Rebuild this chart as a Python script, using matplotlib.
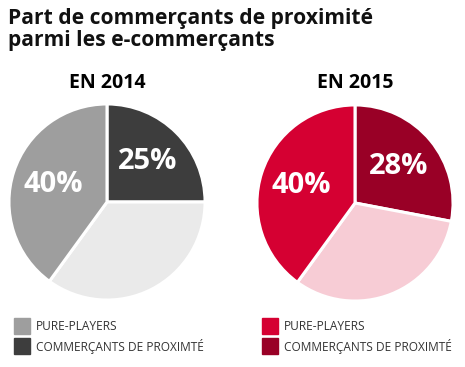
import matplotlib
matplotlib.use("Agg")
import matplotlib.pyplot as plt

# ---------------------------------------------------------------- data
TITLE = "Part de commerçants de proximité\nparmi les e-commerçants"
YEARS = ["EN 2014", "EN 2015"]
# ordre des parts : commerçants de proximité, autres, pure-players
SHARES_2014 = [25, 35, 40]
SHARES_2015 = [28, 32, 40]
SHOW_LABEL = [True, False, True]
LEGEND_LABELS = ["PURE-PLAYERS", "COMMERÇANTS DE PROXIMTÉ"]

GREYS = ["#3d3d3d", "#eaeaea", "#9e9e9e"]
REDS = ["#990026", "#f7ccd5", "#d50032"]

plt.rcParams["font.family"] = ["Open Sans", "DejaVu Sans"]

W, H = 465, 367
fig = plt.figure(figsize=(W / 100, H / 100), dpi=100)


def px(x, y):
    """pixels (origine en haut a gauche) -> fraction de figure"""
    return x / W, 1 - y / H


def draw_pie(cx, cy, r, values, colors, year):
    ax = fig.add_axes([(cx - r) / W, 1 - (cy + r) / H, 2 * r / W, 2 * r / H])
    wedges, texts, autotexts = ax.pie(
        values, colors=colors, startangle=90, counterclock=False,
        radius=1.0, autopct=lambda p: f"{p:.0f}%", pctdistance=0.58,
        wedgeprops=dict(edgecolor="white", linewidth=2.2),
        textprops=dict(color="white", fontsize=21, fontweight="bold"),
    )
    for t, show in zip(autotexts, SHOW_LABEL):
        t.set_visible(show)
    ax.set_xlim(-1.02, 1.02)
    ax.set_ylim(-1.02, 1.02)
    ax.set_aspect("equal")
    ax.axis("off")
    fig.text(*px(cx, 83), year, ha="center", va="center",
             fontsize=14, fontweight="bold", color="black")


draw_pie(107, 202, 100, SHARES_2014, GREYS, YEARS[0])
draw_pie(355, 203, 100, SHARES_2015, REDS, YEARS[1])

fig.text(*px(8, 8), TITLE, ha="left", va="top", fontsize=15.1,
         fontweight="bold", color="#111111", linespacing=1.05)

# legendes (carres + textes)
for x0, colors in [(14, GREYS), (262, REDS)]:
    for i, (lab, col) in enumerate(zip(LEGEND_LABELS, [colors[2], colors[0]])):
        y0 = 318 + i * 20
        fig.patches.append(plt.Rectangle(px(x0, y0 + 16), 16 / W, 16 / H,
                                         transform=fig.transFigure,
                                         color=col, figure=fig))
        fig.text(*px(x0 + 22, y0 + 8.5), lab, ha="left", va="center",
                 fontsize=8.6, color="#333333")

fig.savefig("out.png", dpi=100)
